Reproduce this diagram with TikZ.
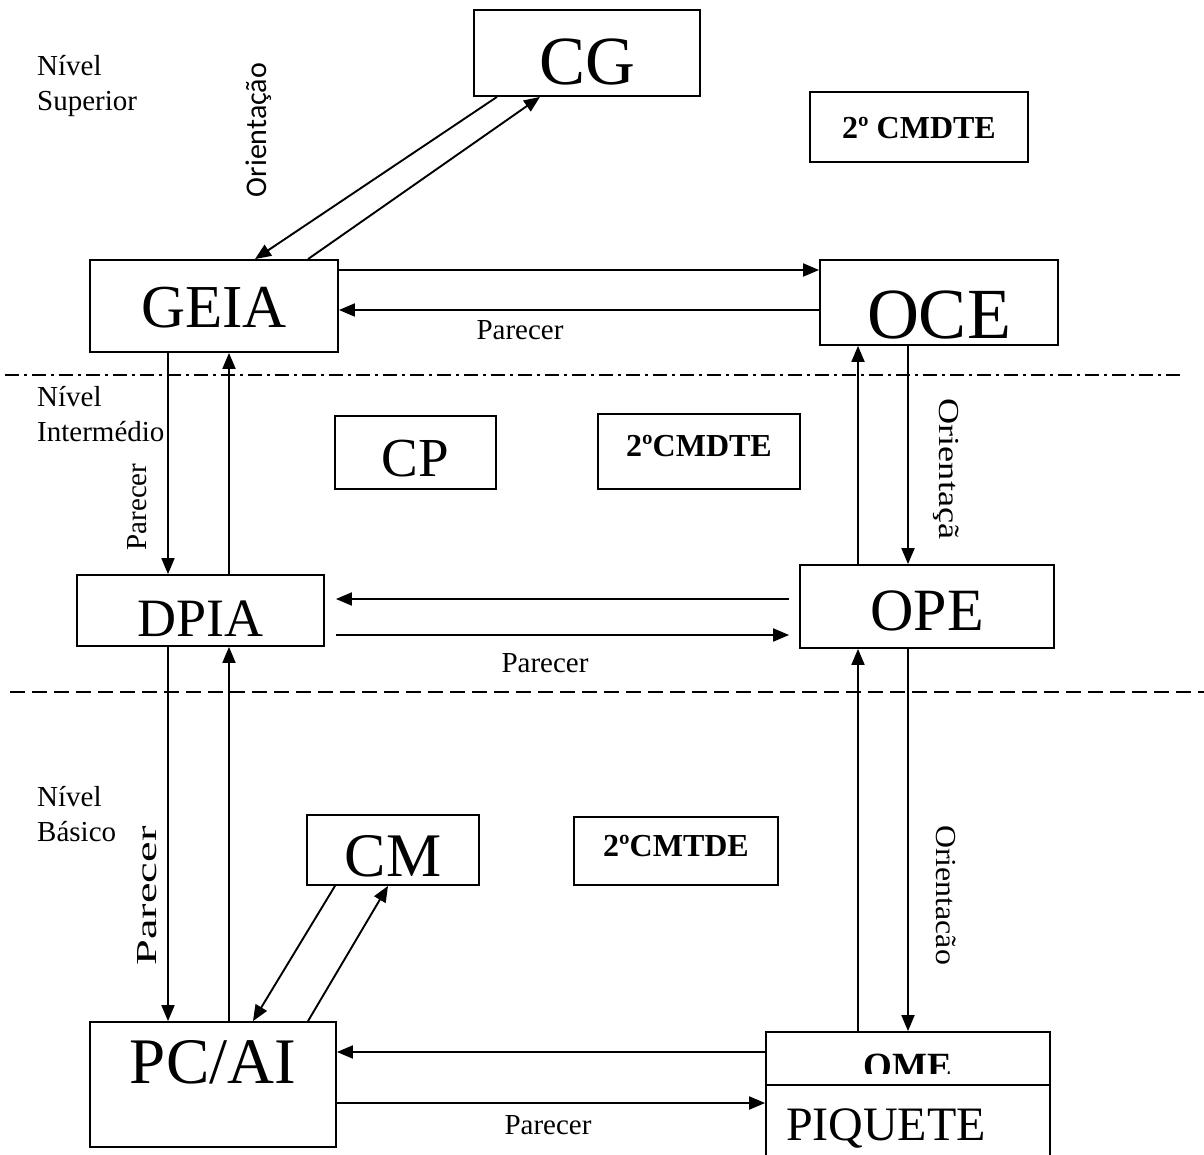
\documentclass[tikz,border=0pt]{standalone}
\usepackage{fontspec}
\setmainfont{Liberation Serif}
\newfontfamily\carlito{Carlito}
\usetikzlibrary{positioning, arrows.meta}

\newcommand{\fs}[1]{\fontsize{#1}{#1}\selectfont}
\tikzset{
	caixa/.style={draw, line width=1.8pt, inner sep=0pt, text depth=0pt},
	seta/.style={line width=1.9pt, -{Triangle[length=16pt,width=13pt]}},
	rotulo/.style={font=\fontsize{29}{35}\selectfont, inner sep=0pt},
	nivel/.style={rotulo, align=left, anchor=north west},
}

\begin{document}
\begin{tikzpicture}[x=1pt, y=-1pt]
	\clip (0,0) rectangle (1204,1155);
	\fill[white] (0,0) rectangle (1204,1155);
	% niveis
	\node[nivel] (sup) at (37,55) {Nível\\Superior};
	\node[nivel] (inter) at (37,386) {Nível\\Intermédio};
	\node[nivel] (bas) at (37,786) {Nível\\Básico};
	\draw[line width=1.8pt, dash pattern=on 14pt off 5pt on 3pt off 5pt] (5,375) -- (1180,375);
	\draw[line width=1.8pt, dash pattern=on 15pt off 7pt] (10,692) -- (1204,692);
	% caixas
	\node[caixa, minimum width=226, minimum height=86, font=\fs{69}, text height=64pt] (cg) at (587,53) {CG};
	\node[caixa, minimum width=218, minimum height=70, font=\bfseries\fs{32}, text height=24pt] (cmdte1) at (919,127) {2º CMDTE};
	\node[caixa, minimum width=248, minimum height=92, font=\fs{61}, text height=42pt] (geia) at (214,306) {GEIA};
	\node[caixa, minimum width=238, minimum height=85, font=\fs{72}, text height=72pt] (oce) at (939,302.5) {OCE};
	\node[caixa, minimum width=161, minimum height=73, font=\fs{55}, text height=48pt] (cp) at (415.5,452.5) {CP};
	\node[caixa, minimum width=202, minimum height=75, font=\bfseries\fs{32}, text height=9pt] (cmdte2) at (699,451.5) {2ºCMDTE};
	\node[caixa, minimum width=247, minimum height=71, font=\fs{54}, text height=52pt] (dpia) at (200.5,610.5) {DPIA};
	\node[caixa, minimum width=254, minimum height=83, font=\fs{60}, text height=47pt] (ope) at (927,606.5) {OPE};
	\node[caixa, minimum width=172, minimum height=70, font=\fs{62}, text height=52pt] (cm) at (393,850) {CM};
	\node[caixa, minimum width=204, minimum height=68, font=\bfseries\fs{32}, text height=10pt] (cmtde) at (676,851) {2ºCMTDE};
	\node[caixa, minimum width=246, minimum height=125, font=\fs{65}, text height=0pt, text depth=3pt] (pcai) at (213,1084.5) {PC/AI};
	\node[caixa, minimum width=284, minimum height=53] (ome) at (908,1058.5) {};
	\node[caixa, minimum width=284, minimum height=75, font=\fs{48}, text width=244pt, inner xsep=20pt, align=left, text height=35pt] (piquete) at (908,1122.5) {PIQUETE};
	\begin{scope}
		\clip (ome.north west) rectangle ([yshift=12]ome.south east);
		\node[font=\bfseries\fs{37}, anchor=base, inner sep=0pt] (omet) at (908,1078) {OME};
	\end{scope}
	% nivel superior
	\draw[seta] ([xshift=-90]cg.south) -- ([xshift=41]geia.north);
	\draw[seta] ([xshift=94]geia.north) -- ([xshift=-47]cg.south);
	\draw[seta] ([yshift=36]geia.east) -- ([yshift=36]geia.east -| oce.west);
	\draw[seta] ([yshift=-4]geia.east -| oce.west) -- ([yshift=-4]geia.east);
	\node[rotulo, font=\carlito\fs{30}, rotate=90] (ori1) at (259,130) {Orientação};
	\node[rotulo] (par1) at (520,330) {Parecer};
	% nivel intermedio
	\draw[seta] ([xshift=-46]geia.south) -- ([xshift=-46]geia.south |- dpia.north);
	\draw[seta] ([xshift=15]geia.south |- dpia.north) -- ([xshift=15]geia.south);
	\draw[seta] ([xshift=-81]oce.south |- ope.north) -- ([xshift=-81]oce.south);
	\draw[seta] ([xshift=-31]oce.south) -- ([xshift=-31]oce.south |- ope.north);
	\draw[seta, shorten <=10pt, shorten >=11pt] ([yshift=7.5]ope.west) -- ([yshift=7.5]ope.west -| dpia.east);
	\draw[seta, shorten <=11pt, shorten >=10pt] ([yshift=-24.5]dpia.east) -- ([yshift=-24.5]dpia.east -| ope.west);
	\node[rotulo, rotate=90] (par2) at (137,507) {Parecer};
	\node[rotulo, rotate=-90, xscale=1.25] (ori2) at (946,469) {Orientaçã};
	\node[rotulo] (par3) at (545,663) {Parecer};
	% nivel basico
	\draw[seta] ([xshift=-32.5]dpia.south) -- ([xshift=-32.5]dpia.south |- pcai.north);
	\draw[seta] ([xshift=28.5]dpia.south |- pcai.north) -- ([xshift=28.5]dpia.south);
	\draw[seta] ([xshift=-58]cm.south) -- ([xshift=40]pcai.north);
	\draw[seta] ([xshift=95]pcai.north) -- ([xshift=-5]cm.south);
	\draw[seta] ([xshift=-69]ope.south |- ome.north) -- ([xshift=-69]ope.south);
	\draw[seta] ([xshift=-19]ope.south) -- ([xshift=-19]ope.south |- ome.north);
	\draw[seta] ([yshift=6.5]ome.west) -- ([yshift=6.5]ome.west -| pcai.east);
	\draw[seta] ([yshift=19.5]piquete.west -| pcai.east) -- ([yshift=19.5]piquete.west);
	\node[rotulo, rotate=90, xscale=1.6] (par4) at (147,896) {Parecer};
	\node[rotulo, rotate=-90, xscale=1.1] (ori3) at (946,895) {Orientacão};
	\node[rotulo] (par5) at (548,1125) {Parecer};
\end{tikzpicture}
\end{document}
